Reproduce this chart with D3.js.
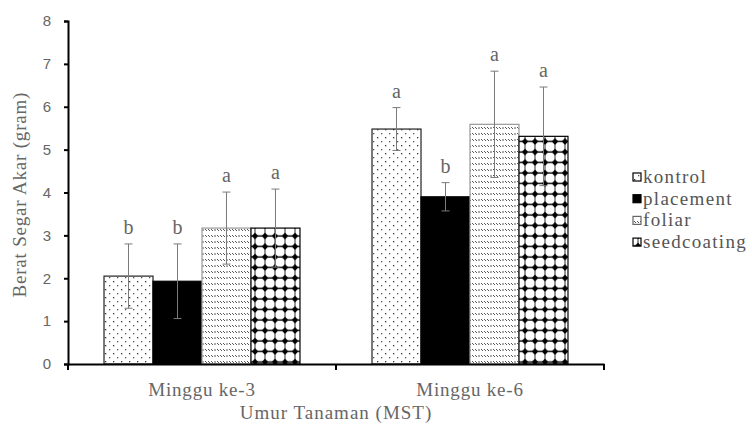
<!DOCTYPE html>
<meta charset="UTF-8">
<script src="https://d3js.org/d3.v7.min.js"></script>
<style>
  body { margin: 0; background: #fff; }
  .serif { font-family: "Liberation Serif", "Times New Roman", Tinos, "DejaVu Serif", serif; }
  .sans { font-family: "Liberation Sans", Arial, Arimo, sans-serif; }
</style>
<div id="chart"></div>
<script>

  // Data
  const groups = ["Minggu ke-3", "Minggu ke-6"];
  const series = ["kontrol", "placement", "foliar", "seedcoating"];
  const values = [
    [2.05, 1.93, 3.17, 3.17],
    [5.48, 3.90, 5.59, 5.31]
  ];
  const errors = [
    [0.75, 0.87, 0.84, 0.91],
    [0.50, 0.33, 1.24, 1.15]
  ];
  const letters = [
    ["b", "b", "a", "a"],
    ["a", "b", "a", "a"]
  ];
  const yTicks = [0, 1, 2, 3, 4, 5, 6, 7, 8];

  const width = 752, height = 430;

  const svg = d3.select("#chart")
    .append("svg")
    .attr("width", width)
    .attr("height", height);

  // Patterns
  const defs = svg.append("defs");

  const pDots = defs.append("pattern")
    .attr("id", "p-kontrol")
    .attr("patternUnits", "userSpaceOnUse")
    .attr("width", 8).attr("height", 8);
  pDots.append("rect").attr("width", 8).attr("height", 8).attr("fill", "#fff");
  pDots.append("rect").attr("x", 1).attr("y", 1).attr("width", 1.3).attr("height", 1.3).attr("fill", "#333");
  pDots.append("rect").attr("x", 5).attr("y", 5).attr("width", 1.3).attr("height", 1.3).attr("fill", "#555");

  const pFoliar = defs.append("pattern")
    .attr("id", "p-foliar")
    .attr("patternUnits", "userSpaceOnUse")
    .attr("width", 12).attr("height", 6);
  pFoliar.append("rect").attr("width", 12).attr("height", 6).attr("fill", "#fff");
  pFoliar.append("path")
    .attr("d", "M1,1 L3,3 M4,1 L6,3 M7,1 L9,3 M10,2 L12,2")
    .attr("stroke", "#444").attr("stroke-width", 0.9);

  const pSeed = defs.append("pattern")
    .attr("id", "p-seedcoating")
    .attr("patternUnits", "userSpaceOnUse")
    .attr("width", 10).attr("height", 10.5);
  pSeed.append("rect").attr("width", 10).attr("height", 10.5).attr("fill", "#fff");
  pSeed.append("path")
    .attr("d", "M0,5 L10,5")
    .attr("stroke", "#000").attr("stroke-width", 1.4);
  pSeed.append("path")
    .attr("d", "M5,0 L5,10.5")
    .attr("stroke", "#000").attr("stroke-width", 0.8);
  pSeed.append("path")
    .attr("d", "M5,1.6 L8.4,5 L5,8.4 L1.6,5 Z")
    .attr("fill", "#000");

  const fills = {
    kontrol: "url(#p-kontrol)",
    placement: "#000",
    foliar: "url(#p-foliar)",
    seedcoating: "url(#p-seedcoating)"
  };
  const strokes = {
    kontrol: "#222",
    placement: "#000",
    foliar: "#999",
    seedcoating: "#000"
  };

  // Scales
  const x0 = d3.scaleBand()
    .domain(groups)
    .range([68, 604]);

  const x1 = d3.scaleBand()
    .domain(series)
    .range([0, x0.bandwidth()])
    .paddingOuter(0.735);

  const y = d3.scaleLinear()
    .domain([0, 8])
    .range([364, 21]);

  // Bars
  const rows = [];
  groups.forEach((g, gi) => {
    series.forEach((s, si) => {
      rows.push({ g, s, v: values[gi][si], e: errors[gi][si], l: letters[gi][si] });
    });
  });
  const cx = d => x0(d.g) + x1(d.s) + x1.bandwidth() / 2;

  svg.append("g")
    .selectAll("rect")
    .data(rows)
    .join("rect")
    .attr("x", d => x0(d.g) + x1(d.s))
    .attr("y", d => y(d.v))
    .attr("width", x1.bandwidth())
    .attr("height", d => y(0) - y(d.v))
    .attr("fill", d => fills[d.s])
    .attr("stroke", d => strokes[d.s])
    .attr("stroke-width", 1.2);

  // Error bars
  const err = svg.append("g")
    .attr("stroke", "#7a7a7a")
    .attr("stroke-width", 1);

  err.selectAll("line.v")
    .data(rows)
    .join("line")
    .attr("class", "v")
    .attr("x1", cx).attr("x2", cx)
    .attr("y1", d => y(d.v + d.e))
    .attr("y2", d => y(d.v - d.e));

  err.selectAll("line.top")
    .data(rows)
    .join("line")
    .attr("class", "top")
    .attr("x1", d => cx(d) - 4)
    .attr("x2", d => cx(d) + 4)
    .attr("y1", d => y(d.v + d.e))
    .attr("y2", d => y(d.v + d.e));

  err.selectAll("line.bot")
    .data(rows)
    .join("line")
    .attr("class", "bot")
    .attr("x1", d => cx(d) - 4)
    .attr("x2", d => cx(d) + 4)
    .attr("y1", d => y(d.v - d.e))
    .attr("y2", d => y(d.v - d.e));

  // Significance letters
  svg.append("g")
    .selectAll("text")
    .data(rows)
    .join("text")
    .attr("class", "serif")
    .attr("x", cx)
    .attr("y", d => y(d.v + d.e) - 10)
    .attr("text-anchor", "middle")
    .style("font-size", "20px")
    .style("fill", "#666")
    .text(d => d.l);

  // Y axis
  const yAxis = svg.append("g")
    .attr("transform", "translate(68,0)")
    .call(d3.axisLeft(y).tickValues(yTicks).tickSize(4).tickPadding(13));
  yAxis.attr("font-family", null);
  yAxis.select(".domain").attr("stroke", "#000").attr("stroke-width", 2);
  yAxis.selectAll(".tick line").attr("stroke", "#000").attr("stroke-width", 2);
  yAxis.selectAll("text")
    .attr("class", "sans")
    .style("font-size", "15px")
    .style("fill", "#666");

  // X axis
  const xAxis = svg.append("g")
    .attr("transform", `translate(0,${y(0)})`)
    .call(d3.axisBottom(x0).tickSize(0).tickPadding(19));
  xAxis.attr("font-family", null);
  xAxis.select(".domain").attr("stroke", "#000").attr("stroke-width", 2);
  xAxis.selectAll("text")
    .attr("class", "serif")
    .style("font-size", "19px")
    .style("letter-spacing", "0.8px")
    .style("fill", "#666");

  // category separators
  xAxis.selectAll("line.sep")
    .data(groups.map(g => x0(g)).concat([x0.range()[1]]))
    .join("line")
    .attr("class", "sep")
    .attr("x1", d => d).attr("x2", d => d)
    .attr("y1", 0).attr("y2", 6)
    .attr("stroke", "#000")
    .attr("stroke-width", 2);

  // Axis titles
  svg.append("text")
    .attr("class", "serif")
    .attr("x", 336)
    .attr("y", 419)
    .attr("text-anchor", "middle")
    .style("font-size", "19px")
    .style("letter-spacing", "1px")
    .style("fill", "#666")
    .text("Umur Tanaman (MST)");

  svg.append("text")
    .attr("class", "serif")
    .attr("transform", "rotate(-90)")
    .attr("x", -y(3.95))
    .attr("y", 26)
    .attr("text-anchor", "middle")
    .style("font-size", "19px")
    .style("letter-spacing", "0.8px")
    .style("fill", "#666")
    .text("Berat Segar Akar (gram)");

  // Legend
  const legend = svg.append("g")
    .attr("transform", "translate(633,178)");

  legend.selectAll("rect")
    .data(series)
    .join("rect")
    .attr("x", 0)
    .attr("y", (d, i) => i * 21.7 - 5)
    .attr("width", 8)
    .attr("height", 8)
    .attr("fill", d => fills[d])
    .attr("stroke", d => strokes[d] === "#999" ? "#666" : "#000")
    .attr("stroke-width", 1.2);

  legend.selectAll("text")
    .data(series)
    .join("text")
    .attr("class", "serif")
    .attr("x", 10)
    .attr("y", (d, i) => i * 21.7 + 5)
    .style("font-size", "19px")
    .style("letter-spacing", "1.3px")
    .style("fill", "#555")
    .text(d => d);

</script>
